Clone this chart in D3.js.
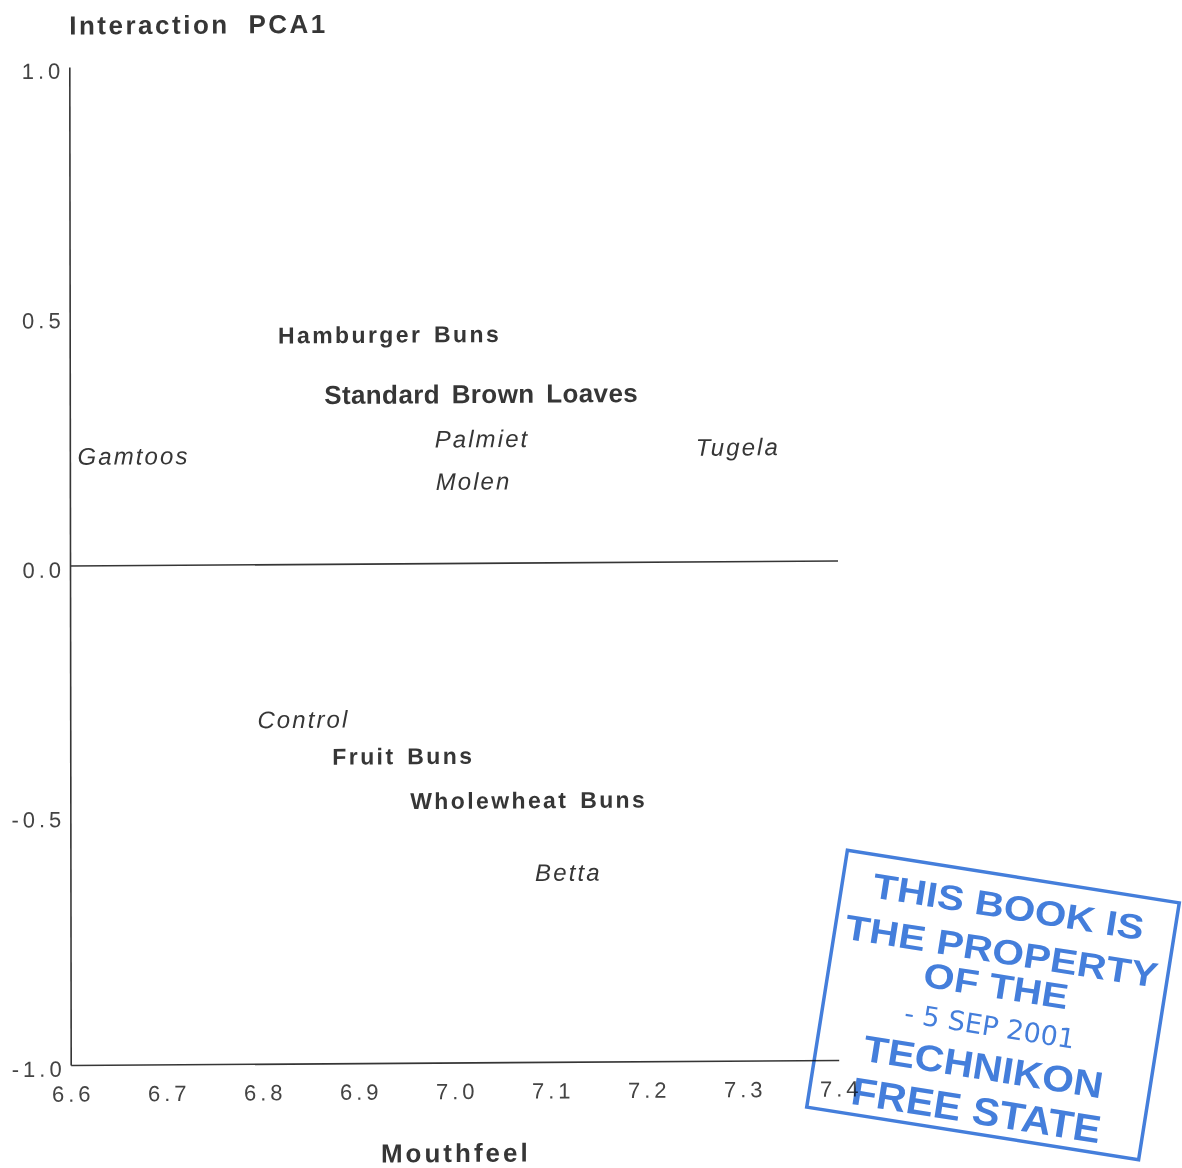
<!DOCTYPE html>
<html>
<head>
<meta charset="utf-8">
<script src="https://cdn.jsdelivr.net/npm/d3@7"></script>
<style>
  html, body { margin: 0; padding: 0; background: #ffffff; }
  svg { display: block; }
  text { font-family: "Liberation Sans", Arial, Helvetica, sans-serif; }
</style>
</head>
<body>
<svg id="chart" width="1182" height="1168"></svg>
<script>
// Axis ticks
const xTicks = [6.6, 6.7, 6.8, 6.9, 7.0, 7.1, 7.2, 7.3, 7.4];
const xTickLabels = ["6.6", "6.7", "6.8", "6.9", "7.0", "7.1", "7.2", "7.3", "7.4"];
const yTicks = [1.0, 0.5, 0.0, -0.5, -1.0];
const yTickLabels = ["1.0", "0.5", "0.0", "-0.5", "-1.0"];

// Labelled points: products and wheat cultivars
const labelNames = ["Hamburger Buns", "Standard Brown Loaves", "Palmiet", "Molen", "Gamtoos",
                    "Tugela", "Control", "Fruit Buns", "Wholewheat Buns", "Betta"];
const mouthfeel = [6.817, 6.865, 6.98, 6.981, 6.608, 7.252, 6.795, 6.873, 6.954, 7.084];
const pca1 = [0.46, 0.34, 0.25, 0.165, 0.22, 0.23, -0.31, -0.385, -0.475, -0.62];
const labelKind = ["bun", "loaf", "cultivar", "cultivar", "cultivar",
                   "cultivar", "cultivar", "bun", "bun", "cultivar"];

const ink = "#363636";
const kindStyle = {
  bun:      { size: 23, weight: "bold",   style: "normal", spacing: 2.4, word: 3 },
  loaf:     { size: 26, weight: "bold",   style: "normal", spacing: 0.4, word: 4 },
  cultivar: { size: 24, weight: "normal", style: "italic", spacing: 2.1, word: 0 }
};

const svg = d3.select("#chart");
const x = d3.scaleLinear().domain([6.6, 7.4]).range([70, 838]);
const y = d3.scaleLinear().domain([-1, 1]).range([1062.5, 64.5]);

// the printed page sits slightly tilted
const g = svg.append("g")
  .attr("transform", "translate(454,564) rotate(-0.08) skewY(-0.3) translate(-454,-564)");

// y axis
const yAxis = g.append("g")
  .attr("transform", `translate(${x(6.6)},0)`)
  .call(d3.axisLeft(y).tickValues(yTicks).tickSize(0).tickSizeOuter(0).tickPadding(5)
    .tickFormat((d, i) => yTickLabels[i]));

// x axis along the bottom
const xAxis = g.append("g")
  .attr("transform", `translate(0,${y(-1)})`)
  .call(d3.axisBottom(x).tickValues(xTicks).tickSize(0).tickSizeOuter(0).tickPadding(21)
    .tickFormat((d, i) => xTickLabels[i]));

[yAxis, xAxis].forEach(ax => {
  ax.select(".domain").attr("stroke", ink).attr("stroke-width", 1.6);
  ax.selectAll("text")
    .attr("fill", "#444")
    .style("font-family", "'Liberation Sans', Arial, sans-serif")
    .style("font-size", "22px")
    .style("letter-spacing", "4px");
});
yAxis.selectAll("text").attr("dy", "0.5em");
xAxis.selectAll("text").attr("dx", "2px");

// zero reference line
g.append("line")
  .attr("x1", x(6.6)).attr("x2", x(7.4))
  .attr("y1", y(0)).attr("y2", y(0))
  .attr("stroke", ink).attr("stroke-width", 1.6);

// axis titles
g.append("text")
  .attr("x", 70).attr("y", 32)
  .attr("fill", ink)
  .style("font-size", "26px").style("font-weight", "bold")
  .style("letter-spacing", "2.5px").style("word-spacing", "9px")
  .text("Interaction PCA1");

g.append("text")
  .attr("x", x(7.0) + 1).attr("y", 1162)
  .attr("text-anchor", "middle")
  .attr("fill", ink)
  .style("font-size", "26px").style("font-weight", "bold")
  .style("letter-spacing", "3px")
  .text("Mouthfeel");

// point labels
g.append("g").selectAll("text")
  .data(labelNames.map((n, i) => ({ name: n, mx: mouthfeel[i], pc: pca1[i], kind: labelKind[i] })))
  .join("text")
  .attr("x", d => x(d.mx))
  .attr("y", d => y(d.pc))
  .attr("dy", "0.36em")
  .attr("fill", ink)
  .style("font-size", d => kindStyle[d.kind].size + "px")
  .style("font-weight", d => kindStyle[d.kind].weight)
  .style("font-style", d => kindStyle[d.kind].style)
  .style("letter-spacing", d => kindStyle[d.kind].spacing + "px")
  .style("word-spacing", d => kindStyle[d.kind].word + "px")
  .text(d => d.name);

// library ownership stamp
const stampLines = ["THIS BOOK IS", "THE PROPERTY", "OF THE", "- 5  SEP  2001", "TECHNIKON", "FREE STATE"];
const stampRow = [-100, -55, -20, 21, 62, 106];
const stampWidth = [274, 316, 146, 172, 242, 252];
const stampSize = [35, 35, 35, 27, 37, 39];
const stampBlue = "#3473d8";

const stamp = svg.append("g")
  .attr("transform", "translate(993,1005) rotate(9)")
  .style("mix-blend-mode", "multiply")
  .attr("opacity", 0.92);

stamp.append("rect")
  .attr("x", -168).attr("y", -130).attr("width", 336).attr("height", 260)
  .attr("fill", "none").attr("stroke", stampBlue).attr("stroke-width", 3.5);

stamp.selectAll("text.stamp")
  .data(stampLines)
  .join("text")
  .attr("class", "stamp")
  .attr("x", 0)
  .attr("y", (d, i) => stampRow[i])
  .attr("dy", "0.36em")
  .attr("text-anchor", "middle")
  .attr("textLength", (d, i) => stampWidth[i])
  .attr("lengthAdjust", "spacingAndGlyphs")
  .attr("fill", stampBlue)
  .style("font-size", (d, i) => stampSize[i] + "px")
  .style("font-weight", (d, i) => i === 3 ? "normal" : "bold")
  .style("font-family", (d, i) => i === 3 ? "'DejaVu Sans Condensed', 'Liberation Sans Narrow', sans-serif" : "'Liberation Sans', Arial, sans-serif")
  .style("font-stretch", (d, i) => i === 3 ? "condensed" : "normal")
  .text(d => d);
</script>
</body>
</html>
